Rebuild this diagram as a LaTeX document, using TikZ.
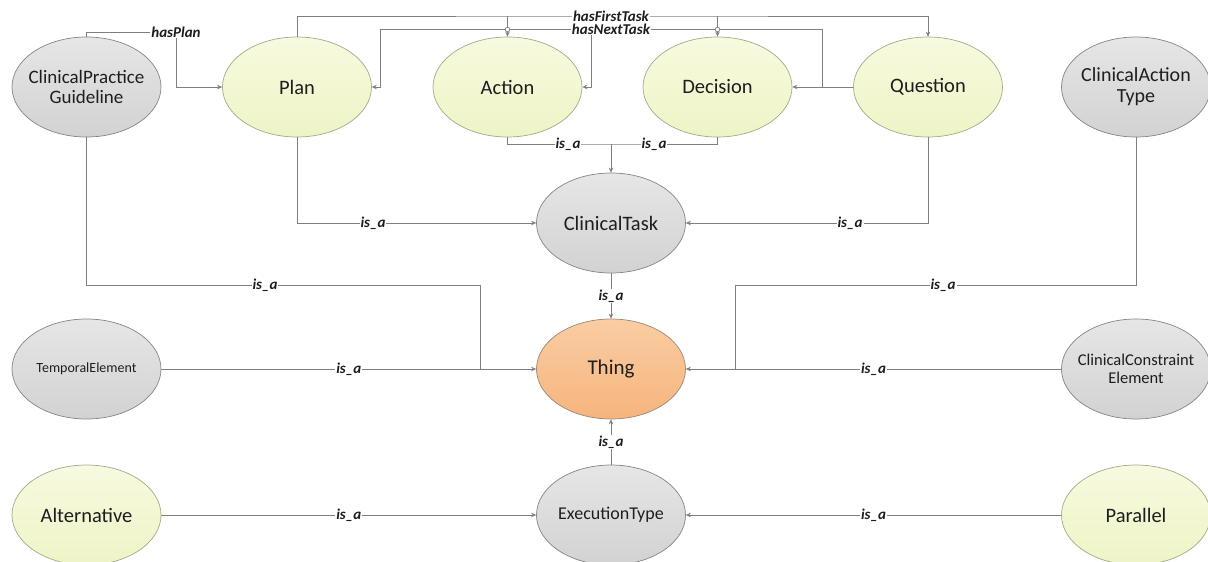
\documentclass[tikz,border=0pt]{standalone}
\usepackage{fontspec}
\setmainfont{Carlito}
\usetikzlibrary{shapes.geometric,arrows.meta}
\definecolor{linegray}{HTML}{7F7F7F}
\definecolor{txt}{HTML}{1E1E1E}
\definecolor{greenA}{HTML}{F7FADF}
\definecolor{greenB}{HTML}{EEF4C6}
\definecolor{greenE}{HTML}{A3A98A}
\definecolor{grayA}{HTML}{E6E6E6}
\definecolor{grayB}{HTML}{D2D2D2}
\definecolor{grayE}{HTML}{858585}
\definecolor{orangeA}{HTML}{FACDA2}
\definecolor{orangeB}{HTML}{F6B47E}
\definecolor{orangeE}{HTML}{9A8878}
\tikzset{
  concept/.style={ellipse, minimum width=149pt, minimum height=100pt, inner sep=0pt, line width=0.7pt},
  greennode/.style={concept, draw=greenE, top color=greenA, bottom color=greenB},
  graynode/.style={concept, draw=grayE, top color=grayA, bottom color=grayB},
  orangenode/.style={concept, draw=orangeE, top color=orangeA, bottom color=orangeB},
  caption/.style={text=txt, align=center, font=\fontsize{#1}{#1}\selectfont, inner sep=0pt},
  conn/.style={draw=linegray, line width=0.8pt},
  arr/.style={conn, -{Stealth[length=5pt,width=4.5pt]}},
  rel/.style={fill=white, text=txt, inner xsep=1pt, inner ysep=0.3pt, font=\fontsize{15}{15}\selectfont\bfseries\itshape},
  hop/.style={circle, draw=linegray, fill=white, line width=0.7pt, minimum size=4.5pt, inner sep=0pt},
}
\begin{document}
\begin{tikzpicture}[x=1pt,y=-1pt]
\useasboundingbox (0,0) rectangle (1208,562);

% concept nodes
\node[graynode, label={[caption=19]center:ClinicalPractice\\[1pt]Guideline}] (cpg) at (86.5,87) {};
\node[greennode, label={[caption=20.5]center:Plan}] (plan) at (297,87) {};
\node[greennode, label={[caption=20.5]center:Action}] (action) at (507.5,87) {};
\node[greennode, label={[caption=20.5]center:Decision}] (decision) at (717.5,87) {};
\node[greennode, label={[caption=20.5]center:Question}] (question) at (928,87) {};
\node[graynode, label={[caption=20]center:ClinicalAction\\[1pt]Type}] (cat) at (1136,87) {};
\node[graynode, label={[caption=20.5]center:ClinicalTask}] (task) at (611,223) {};
\node[graynode, label={[caption=14]center:TemporalElement}] (temporal) at (86.5,369) {};
\node[orangenode, label={[caption=21]center:Thing}] (thing) at (611,369) {};
\node[graynode, label={[caption=16.5]center:ClinicalConstraint\\[1pt]Element}] (cce) at (1136,369) {};
\node[greennode, label={[caption=20.5]center:Alternative}] (alt) at (86.5,515) {};
\node[graynode, label={[caption=18]center:ExecutionType}] (exec) at (611,515) {};
\node[greennode, label={[caption=20.5]center:Parallel}] (par) at (1136,515) {};

% routing points
\coordinate (hp) at (176,32);
\coordinate (ft) at (611,16);
\coordinate (nt) at (611,29.5);
\coordinate (nq) at (822,87);
\coordinate (ntq) at (822,29.5);
\coordinate (ntp) at (380,29.5);
\coordinate (nta) at (591,29.5);
\coordinate (ad) at (611,144);
\coordinate (cpgbend) at (86.5,285);
\coordinate (cpgdrop) at (480,285);
\coordinate (catbend) at (1136,285);
\coordinate (catdrop) at (735,285);

% hasPlan
\draw[arr] (cpg.north) |- (hp) -- (hp |- plan.west) -- (plan.west);
\node[rel] at (hp) {hasPlan};

% hasFirstTask
\draw[arr] (plan.north) |- (ft) -| (question.north);
\draw[arr] (action.north |- ft) -- (action.north);
\draw[arr] (decision.north |- ft) -- (decision.north);

% hasNextTask
\draw[arr] (question.west) -- (decision.east);
\draw[arr] (nq) -- (ntq) -- (ntp) |- (plan.east);
\draw[arr] (nta) |- (action.east);
\node[hop] at (action.north |- nt) {};
\node[hop] at (decision.north |- nt) {};
\node[rel] at (ft) {hasFirstTask};
\node[rel] at (nt) {hasNextTask};

% is_a into ClinicalTask
\draw[conn] (action.south) |- (ad) -| (decision.south);
\draw[arr] (ad) -- (task.north);
\node[rel] at (568,144) {is\_a};
\node[rel] at (654,144) {is\_a};
\draw[arr] (plan.south) |- (task.west);
\node[rel] at (373,223) {is\_a};
\draw[arr] (question.south) |- (task.east);
\node[rel] at (850,223) {is\_a};

% is_a into Thing
\draw[arr] (task.south) -- (thing.north) node[rel, midway] {is\_a};
\draw[conn] (cpg.south) -- (cpgbend) -- (cpgdrop) -- (cpgdrop |- thing.west);
\node[rel] at (265,285) {is\_a};
\draw[arr] (temporal.east) -- (thing.west) node[rel, pos=0.5] {is\_a};
\draw[conn] (cat.south) -- (catbend) -- (catdrop) -- (catdrop |- thing.east);
\node[rel] at (943,285) {is\_a};
\draw[arr] (cce.west) -- (thing.east) node[rel, pos=0.5] {is\_a};
\draw[arr] (exec.north) -- (thing.south) node[rel, midway] {is\_a};

% is_a into ExecutionType
\draw[arr] (alt.east) -- (exec.west) node[rel, pos=0.5] {is\_a};
\draw[arr] (par.west) -- (exec.east) node[rel, pos=0.5] {is\_a};
\end{tikzpicture}
\end{document}
